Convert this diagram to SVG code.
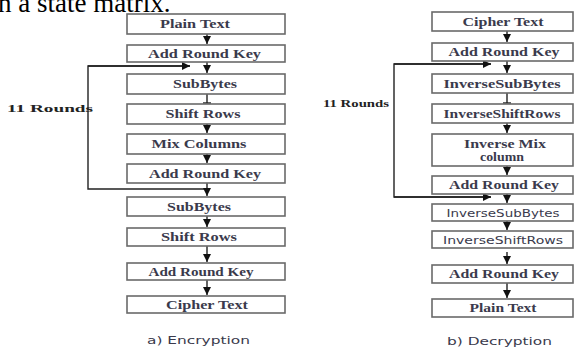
<svg xmlns="http://www.w3.org/2000/svg" width="585" height="349" viewBox="0 0 585 349">
<style>
.box{fill:#fff;stroke:#6a6a6a;stroke-width:1.6}
.t{font-family:"Liberation Serif",serif;font-weight:bold;font-size:12px;fill:#3a3a4c;text-anchor:middle}
.s{font-family:"DejaVu Sans",sans-serif;font-size:11px;fill:#3a3a4c;text-anchor:middle}
.lbl{font-family:"Liberation Serif",serif;font-weight:bold;font-size:11px;fill:#222}
.c{fill:none;stroke:#222;stroke-width:1.4}
.head{font-family:"Liberation Serif",serif;font-size:27px;fill:#000}
</style>
<defs>
<marker id="ah" markerUnits="userSpaceOnUse" markerWidth="9" markerHeight="8" refX="8" refY="4" orient="auto">
<path d="M0,0 L8,4 L0,8 z" fill="#111"/>
</marker>
</defs>
<text class="head" x="-2" y="12">n a state matrix.</text>

<g id="connectors">
<!-- encryption -->
<line class="c" x1="207" y1="34" x2="207" y2="44" marker-end="url(#ah)"/>
<line class="c" x1="207" y1="62" x2="207" y2="73" marker-end="url(#ah)"/>
<polyline class="c" points="190,66 88,66 88,189 207,189"/>
<line class="c" x1="88" y1="66" x2="190" y2="66" marker-end="url(#ah)"/>
<line class="c" x1="207" y1="94" x2="207" y2="103"/>
<line class="c" x1="203" y1="103" x2="211" y2="103"/>
<line class="c" x1="207" y1="124" x2="207" y2="133" marker-end="url(#ah)"/>
<line class="c" x1="207" y1="154" x2="207" y2="163" marker-end="url(#ah)"/>
<line class="c" x1="207" y1="183" x2="207" y2="196" marker-end="url(#ah)"/>
<line class="c" x1="207" y1="216" x2="207" y2="227" marker-end="url(#ah)"/>
<line class="c" x1="207" y1="246" x2="207" y2="262" marker-end="url(#ah)"/>
<line class="c" x1="207" y1="280" x2="207" y2="295" marker-end="url(#ah)"/>
<!-- decryption -->
<line class="c" x1="507" y1="31" x2="507" y2="42" marker-end="url(#ah)"/>
<line class="c" x1="507" y1="61" x2="507" y2="73" marker-end="url(#ah)"/>
<polyline class="c" points="491,64 394,64 394,197 491,197"/>
<line class="c" x1="394" y1="64" x2="491" y2="64" marker-end="url(#ah)"/>
<line class="c" x1="394" y1="197" x2="491" y2="197" marker-end="url(#ah)"/>
<line class="c" x1="507" y1="93" x2="507" y2="103"/>
<line class="c" x1="503" y1="103" x2="511" y2="103"/>
<line class="c" x1="507" y1="123" x2="507" y2="133" marker-end="url(#ah)"/>
<line class="c" x1="507" y1="166" x2="507" y2="175" marker-end="url(#ah)"/>
<line class="c" x1="507" y1="194" x2="507" y2="203" marker-end="url(#ah)"/>
<line class="c" x1="507" y1="221" x2="507" y2="230" marker-end="url(#ah)"/>
<line class="c" x1="507" y1="252" x2="507" y2="264" marker-end="url(#ah)"/>
<line class="c" x1="507" y1="283" x2="507" y2="298" marker-end="url(#ah)"/>
</g>

<text class="lbl" x="7" y="112" textLength="86" lengthAdjust="spacingAndGlyphs">11 Rounds</text>
<text class="lbl" x="323" y="107" textLength="66" lengthAdjust="spacingAndGlyphs">11 Rounds</text>

<g id="enc-plain"><rect class="box" x="127" y="14" width="158" height="20"/><text class="t" x="195" y="28" textLength="70" lengthAdjust="spacingAndGlyphs">Plain Text</text></g>
<g id="enc-ark1"><rect class="box" x="127" y="45" width="158" height="17"/><text class="t" x="204.5" y="57.5" textLength="113" lengthAdjust="spacingAndGlyphs">Add Round Key</text></g>
<g id="enc-sub1"><rect class="box" x="127" y="74" width="158" height="20"/><text class="t" x="205" y="88" textLength="64" lengthAdjust="spacingAndGlyphs">SubBytes</text></g>
<g id="enc-shift1"><rect class="box" x="127" y="104" width="158" height="20"/><text class="t" x="203" y="118" textLength="75" lengthAdjust="spacingAndGlyphs">Shift Rows</text></g>
<g id="enc-mix"><rect class="box" x="127" y="134" width="158" height="20"/><text class="t" x="199" y="148" textLength="95" lengthAdjust="spacingAndGlyphs">Mix Columns</text></g>
<g id="enc-ark2"><rect class="box" x="127" y="164" width="158" height="19"/><text class="t" x="205" y="177.5" textLength="112" lengthAdjust="spacingAndGlyphs">Add Round Key</text></g>
<g id="enc-sub2"><rect class="box" x="127" y="197" width="158" height="19"/><text class="t" x="199" y="210.5" textLength="64" lengthAdjust="spacingAndGlyphs">SubBytes</text></g>
<g id="enc-shift2"><rect class="box" x="127" y="228" width="158" height="18"/><text class="t" x="199" y="241" textLength="76" lengthAdjust="spacingAndGlyphs">Shift Rows</text></g>
<g id="enc-ark3"><rect class="box" x="127" y="263" width="158" height="17"/><text class="t" x="201" y="275.5" textLength="105" lengthAdjust="spacingAndGlyphs">Add Round Key</text></g>
<g id="enc-cipher"><rect class="box" x="127" y="296" width="158" height="17"/><text class="t" x="207" y="308.5" textLength="82" lengthAdjust="spacingAndGlyphs">Cipher Text</text></g>
<text class="s" x="198.5" y="344" textLength="103" lengthAdjust="spacingAndGlyphs">a) Encryption</text>

<g id="dec-cipher"><rect class="box" x="432" y="12" width="141" height="19"/><text class="t" x="503" y="25.5" textLength="81" lengthAdjust="spacingAndGlyphs">Cipher Text</text></g>
<g id="dec-ark1"><rect class="box" x="432" y="43" width="141" height="18"/><text class="t" x="504" y="56" textLength="111" lengthAdjust="spacingAndGlyphs">Add Round Key</text></g>
<g id="dec-isub1"><rect class="box" x="432" y="74" width="141" height="19"/><text class="t" x="502" y="87.5" textLength="117" lengthAdjust="spacingAndGlyphs">InverseSubBytes</text></g>
<g id="dec-ishift1"><rect class="box" x="432" y="104" width="141" height="19"/><text class="t" x="502" y="117.5" textLength="117" lengthAdjust="spacingAndGlyphs">InverseShiftRows</text></g>
<g id="dec-imix"><rect class="box" x="432" y="134" width="141" height="32"/><text class="t" x="505" y="148" textLength="82" lengthAdjust="spacingAndGlyphs">Inverse Mix</text><text class="t" x="502" y="161" textLength="44" lengthAdjust="spacingAndGlyphs">column</text></g>
<g id="dec-ark2"><rect class="box" x="432" y="176" width="141" height="18"/><text class="t" x="504" y="189" textLength="110" lengthAdjust="spacingAndGlyphs">Add Round Key</text></g>
<g id="dec-isub2"><rect class="box" x="432" y="204" width="141" height="17"/><text class="s" x="503" y="216.5" textLength="113" lengthAdjust="spacingAndGlyphs">InverseSubBytes</text></g>
<g id="dec-ishift2"><rect class="box" x="432" y="231" width="141" height="17"/><text class="s" x="503" y="243.5" textLength="120" lengthAdjust="spacingAndGlyphs">InverseShiftRows</text></g>
<g id="dec-ark3"><rect class="box" x="432" y="265" width="141" height="18"/><text class="t" x="504" y="278" textLength="110" lengthAdjust="spacingAndGlyphs">Add Round Key</text></g>
<g id="dec-plain"><rect class="box" x="432" y="299" width="141" height="18"/><text class="t" x="503" y="312" textLength="67" lengthAdjust="spacingAndGlyphs">Plain Text</text></g>
<text class="s" x="499.5" y="345" textLength="105" lengthAdjust="spacingAndGlyphs">b) Decryption</text>
</svg>
